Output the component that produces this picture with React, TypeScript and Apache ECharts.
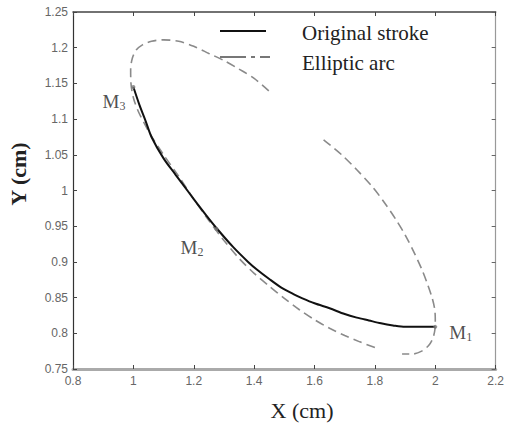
import React, { useEffect, useRef } from "react";
import * as echarts from "echarts";

// Tick labels
const xTickLabels = ["0.8", "1", "1.2", "1.4", "1.6", "1.8", "2", "2.2"];
const yTickLabels = ["0.75", "0.8", "0.85", "0.9", "0.95", "1", "1.05", "1.1", "1.15", "1.2", "1.25"];

// Original stroke (solid)
const strokeX = [1.0, 1.02, 1.04, 1.06, 1.1, 1.14, 1.17, 1.2, 1.24, 1.28, 1.33, 1.38, 1.41, 1.45, 1.49, 1.53, 1.56, 1.6, 1.65, 1.7, 1.74, 1.78, 1.82, 1.86, 1.9, 1.95, 2.0];
const strokeY = [1.145, 1.12, 1.098, 1.075, 1.045, 1.022, 1.005, 0.988, 0.966, 0.945, 0.921, 0.9, 0.889, 0.876, 0.864, 0.855, 0.849, 0.842, 0.835, 0.827, 0.822, 0.818, 0.814, 0.811, 0.809, 0.809, 0.809];

// Elliptic arc (dashed), null = gap
const arcX = [1.8, 1.75, 1.7, 1.65, 1.6, 1.55, 1.5, 1.45, 1.4, 1.35, 1.3, 1.25, 1.2, 1.15, 1.1, 1.06, 1.035, 1.015, 1.0, 0.992, 0.991, 0.997, 1.01, 1.03, 1.06, 1.1, 1.15, 1.2, 1.25, 1.3, 1.35, 1.4, 1.455, 1.54, 1.63, 1.69, 1.74, 1.79, 1.83, 1.87, 1.9, 1.93, 1.955, 1.975, 1.99, 1.998, 2.0, 1.999, 1.992, 1.978, 1.955, 1.925, 1.89];
const arcY = [0.78, 0.788, 0.797, 0.807, 0.819, 0.833, 0.849, 0.866, 0.884, 0.905, 0.93, 0.958, 0.988, 1.02, 1.05, 1.076, 1.095, 1.112, 1.13, 1.15, 1.17, 1.186, 1.197, 1.204, 1.209, 1.211, 1.209, 1.202, 1.192, 1.182, 1.17, 1.157, 1.137, null, 1.071, 1.05, 1.029, 1.006, 0.984, 0.959, 0.938, 0.913, 0.89, 0.868, 0.849, 0.834, 0.82, 0.806, 0.793, 0.783, 0.775, 0.771, 0.771];

// Marked points
const pointNames = ["1", "2", "3"];
const pointX = [2.0, 1.275, 1.0];
const pointY = [0.809, 0.946, 1.145];

const legendNames = ["Original stroke", "Elliptic arc"];

export default function App() {
  const ref = useRef<HTMLDivElement>(null);
  useEffect(() => {
    if (!ref.current) return;
    const chart = echarts.init(ref.current, null, { renderer: "svg" });
    const serif = "Liberation Serif";
    const tickFont = { fontFamily: "Liberation Sans", fontSize: 12, color: "#666" };
    const labelPos: any[] = [
      { position: "right", distance: 12, offset: [0, 6] },
      { position: "left", distance: 11, offset: [0, 18] },
      { position: "left", distance: 6, offset: [0, 15] },
    ];
    const option: any = {
      animation: false,
      backgroundColor: "#fff",
      grid: { left: 73, right: 6, top: 12, bottom: 64 },
      xAxis: [
        {
          type: "value", min: 0.8, max: 2.2, interval: 0.2, position: "bottom",
          axisLine: { lineStyle: { color: "#aaa", width: 3 } },
          axisTick: { inside: true, length: 4, lineStyle: { color: "#444" } },
          splitLine: { show: false },
          axisLabel: { ...tickFont, margin: 6, formatter: (v: number) => xTickLabels[Math.round((v - 0.8) / 0.2)] ?? "" },
        },
        {
          type: "value", min: 0.8, max: 2.2, interval: 0.2, position: "top",
          axisLine: { lineStyle: { color: "#444", width: 1.5 } },
          axisTick: { inside: true, length: 4, lineStyle: { color: "#444" } },
          splitLine: { show: false },
          axisLabel: { show: false },
        },
      ],
      yAxis: [
        {
          type: "value", min: 0.75, max: 1.25, interval: 0.05, position: "left",
          axisLine: { show: true, lineStyle: { color: "#333", width: 1.2 } },
          axisTick: { show: true, inside: true, length: 4, lineStyle: { color: "#444" } },
          splitLine: { show: false },
          axisLabel: { ...tickFont, margin: 5, formatter: (v: number) => yTickLabels[Math.round((v - 0.75) / 0.05)] ?? "" },
        },
        {
          type: "value", min: 0.75, max: 1.25, interval: 0.05, position: "right",
          axisLine: { show: true, lineStyle: { color: "#999", width: 1.2 } },
          axisTick: { show: true, inside: true, length: 4, lineStyle: { color: "#666" } },
          splitLine: { show: false },
          axisLabel: { show: false },
        },
      ],
      series: [
        {
          name: legendNames[1],
          type: "line",
          data: arcX.map((x, i) => [x, arcY[i] === null ? "-" : arcY[i]]),
          showSymbol: false,
          smooth: 0.3,
          connectNulls: false,
          lineStyle: { color: "#8a8a8a", width: 1.6, type: [9, 5] },
          z: 2,
        },
        {
          name: legendNames[0],
          type: "line",
          data: strokeX.map((x, i) => [x, strokeY[i]]),
          showSymbol: false,
          smooth: 0.3,
          lineStyle: { color: "#111", width: 2 },
          z: 3,
        },
        {
          type: "scatter",
          symbol: "circle",
          symbolSize: 4,
          itemStyle: { color: "#777" },
          z: 4,
          data: pointX.map((x, i) => ({
            value: [x, pointY[i]],
            label: {
              show: true,
              ...labelPos[i],
              formatter: "{m|M}{s|" + pointNames[i] + "}",
              rich: {
                m: { fontFamily: serif, fontSize: 19, color: "#222" },
                s: { fontFamily: serif, fontSize: 12, color: "#222", padding: [9, 0, 0, 0] },
              },
            },
          })),
        },
      ],
      graphic: [
        { type: "line", shape: { x1: 220, y1: 31, x2: 266, y2: 31 }, style: { stroke: "#111", lineWidth: 2 } },
        { type: "line", shape: { x1: 220, y1: 57, x2: 270, y2: 57 }, style: { stroke: "#777", lineWidth: 2, lineDash: [26, 5, 4, 5] } },
        { type: "text", x: 302, y: 33, style: { text: legendNames[0], font: `21px "${serif}"`, fill: "#222", verticalAlign: "middle" } },
        { type: "text", x: 302, y: 63, style: { text: legendNames[1], font: `21px "${serif}"`, fill: "#222", verticalAlign: "middle" } },
        { type: "text", x: 302, y: 410, style: { text: "X (cm)", font: `22px "${serif}"`, fill: "#222", align: "center", verticalAlign: "middle" } },
        { type: "text", x: 18, y: 174, rotation: Math.PI / 2, style: { text: "Y (cm)", font: `bold 22px "${serif}"`, fill: "#222", align: "center", verticalAlign: "middle" } },
      ],
    };
    chart.setOption(option);
    return () => chart.dispose();
  }, []);
  return <div ref={ref} style={{ position: "fixed", left: 0, top: 0, width: 507, height: 433 }} />;
}
